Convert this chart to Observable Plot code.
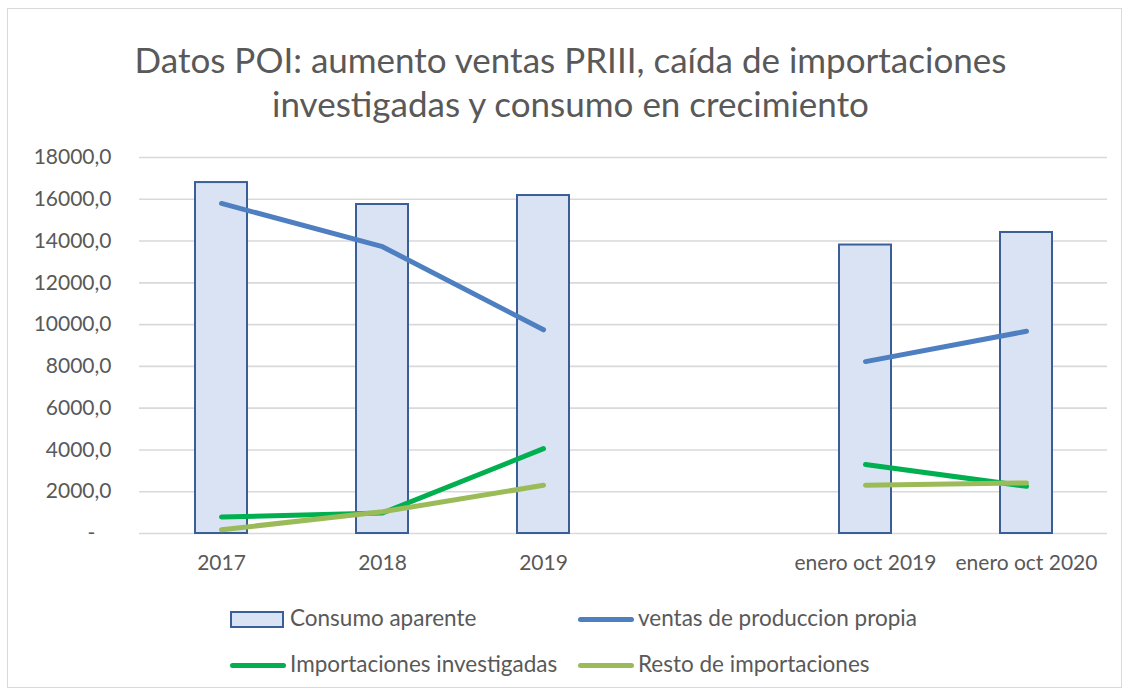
<!DOCTYPE html>
<html>
<head>
<meta charset="utf-8">
<script src="https://cdn.jsdelivr.net/npm/d3@7"></script>
<script src="https://cdn.jsdelivr.net/npm/@observablehq/plot@0.6"></script>
<style>
  body { margin: 0; background: #fff; font-family: Lato, "Open Sans", sans-serif; }
  #wrap { position: relative; width: 1129px; height: 693px; overflow: hidden; }
  #frame { position: absolute; left: 7px; top: 8px; width: 1113px; height: 678px; border: 1px solid #d9d9d9; }
  #title { position: absolute; left: 0; top: 37px; width: 1141px; text-align: center; color: #595959;
           font-size: 35px; line-height: 44px; }
  #chart { position: absolute; left: 0; top: 130px; }
  .leg { position: absolute; font-size: 22.5px; color: #595959; line-height: 26px; white-space: nowrap; }
  .sw { position: absolute; }
</style>
</head>
<body>
<div id="wrap">
  <div id="frame"></div>
  <div id="title">Datos POI: aumento ventas PRIII, caída de importaciones<br>investigadas y consumo en crecimiento</div>
  <div id="chart"></div>
  <div id="legend"></div>
</div>
<script>
const categories = ["2017", "2018", "2019", " ", "enero oct 2019", "enero oct 2020"];
const consumoAparente = [16800, 15750, 16180, null, 13810, 14410];
const ventasProduccionPropia = [15800, 13730, 9750, null, 8230, 9680];
const importacionesInvestigadas = [790, 980, 4060, null, 3300, 2260];
const restoImportaciones = [180, 1040, 2310, null, 2310, 2420];
const yTicks = [0, 2000, 4000, 6000, 8000, 10000, 12000, 14000, 16000, 18000];

const seriesNames = ["Consumo aparente", "ventas de produccion propia", "Importaciones investigadas", "Resto de importaciones"];
const colors = {
  bar: "#dae3f3", barStroke: "#3a5f96",
  ventas: "#4e7fc0", imp: "#00b050", resto: "#9bbb59"
};

const rows = categories.map((c, i) => ({
  cat: c, consumo: consumoAparente[i], ventas: ventasProduccionPropia[i],
  imp: importacionesInvestigadas[i], resto: restoImportaciones[i]
}));

const fmt = d => d === 0 ? "-\u00a0\u00a0\u00a0" : d.toFixed(1).replace(".", ",");

const chart = Plot.plot({
  width: 1129,
  height: 450,
  marginLeft: 139,
  marginRight: 22,
  marginTop: 27,
  marginBottom: 47,
  style: { fontFamily: "Lato, 'Open Sans', sans-serif", fontSize: "21px", color: "#595959", background: "transparent", overflow: "visible" },
  x: { domain: categories, paddingInner: 0.68, paddingOuter: 0.34, label: null, tickSize: 0, tickPadding: 22 },
  y: { domain: [0, 18000], ticks: yTicks, tickFormat: fmt, label: null, tickSize: 0, tickPadding: 28 },
  marks: [
    Plot.gridY(yTicks, { stroke: "#d9d9d9", strokeOpacity: 1, strokeWidth: 1.6 }),
    Plot.barY(rows, { x: "cat", y: "consumo", fill: colors.bar, stroke: colors.barStroke, strokeWidth: 2 }),
    Plot.line(rows, { x: "cat", y: "ventas", stroke: colors.ventas, strokeWidth: 5, strokeLinecap: "round", strokeLinejoin: "round" }),
    Plot.line(rows, { x: "cat", y: "imp", stroke: colors.imp, strokeWidth: 5, strokeLinecap: "round", strokeLinejoin: "round" }),
    Plot.line(rows, { x: "cat", y: "resto", stroke: colors.resto, strokeWidth: 5, strokeLinecap: "round", strokeLinejoin: "round" })
  ]
});
document.getElementById("chart").appendChild(chart);

// legend
const legend = document.getElementById("legend");
const items = [
  { name: seriesNames[0], type: "rect", sx: 230, tx: 290, y: 619 },
  { name: seriesNames[1], type: "line", color: colors.ventas, sx: 578, tx: 638, y: 619 },
  { name: seriesNames[2], type: "line", color: colors.imp, sx: 230, tx: 290, y: 665 },
  { name: seriesNames[3], type: "line", color: colors.resto, sx: 578, tx: 638, y: 665 }
];
items.forEach(it => {
  const sw = document.createElement("div");
  sw.className = "sw";
  if (it.type === "rect") {
    Object.assign(sw.style, { left: it.sx + "px", top: (it.y - 8) + "px", width: "50px", height: "13px",
      background: colors.bar, border: "2px solid " + colors.barStroke });
  } else {
    Object.assign(sw.style, { left: it.sx + "px", top: (it.y - 2.5) + "px", width: "56px", height: "5px",
      background: it.color, borderRadius: "3px" });
  }
  legend.appendChild(sw);
  const t = document.createElement("div");
  t.className = "leg";
  t.textContent = it.name;
  Object.assign(t.style, { left: it.tx + "px", top: (it.y - 14) + "px" });
  legend.appendChild(t);
});
</script>
</body>
</html>
